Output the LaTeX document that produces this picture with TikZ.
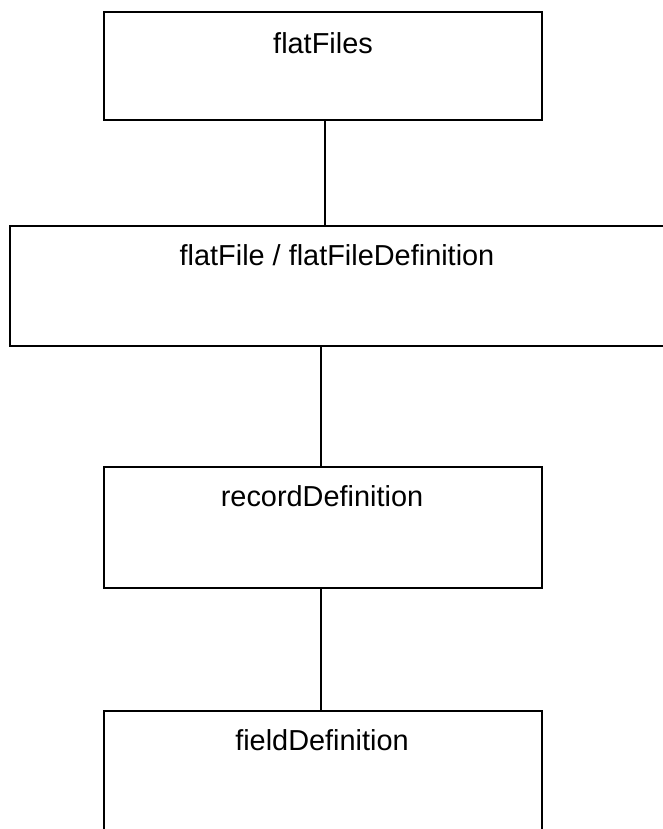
\documentclass[tikz,border=0pt]{standalone}
\usepackage{fontspec}
\setmainfont{Liberation Sans}
\begin{document}
\begin{tikzpicture}[x=1bp,y=-1bp,
  boxstyle/.style={draw=black, line width=2bp, rectangle, inner sep=0pt, outer sep=0pt, anchor=north west},
  labelstyle/.style={anchor=base, inner sep=0pt, font=\fontsize{29}{34}\selectfont},
  linkstyle/.style={draw=black, line width=1.6bp}]
\useasboundingbox (0,0) rectangle (663,829);
\clip (0,0) rectangle (663,829);
\fill[white] (0,0) rectangle (663,829);
\node[boxstyle, minimum width=438bp, minimum height=108bp] (b1) at (104,12) {};
\node[boxstyle, minimum width=656bp, minimum height=120bp] (b2) at (10,226) {};
\node[boxstyle, minimum width=438bp, minimum height=121bp] (b3) at (104,467) {};
\node[boxstyle, minimum width=438bp, minimum height=130bp] (b4) at (104,711) {};
\node[labelstyle] (t1) at (323,53) {flatFiles};
\node[labelstyle] (t2) at (337,265) {flatFile / flatFileDefinition};
\node[labelstyle] (t3) at (322,506) {recordDefinition};
\node[labelstyle] (t4) at (322,750) {fieldDefinition};
\draw[linkstyle] ([xshift=2bp]b1.south) -- ([xshift=2bp]b1.south |- b2.north);
\draw[linkstyle] ([xshift=-2bp]b3.north |- b2.south) -- ([xshift=-2bp]b3.north);
\draw[linkstyle] ([xshift=-2bp]b3.south) -- ([xshift=-2bp]b4.north);
\end{tikzpicture}
\end{document}
